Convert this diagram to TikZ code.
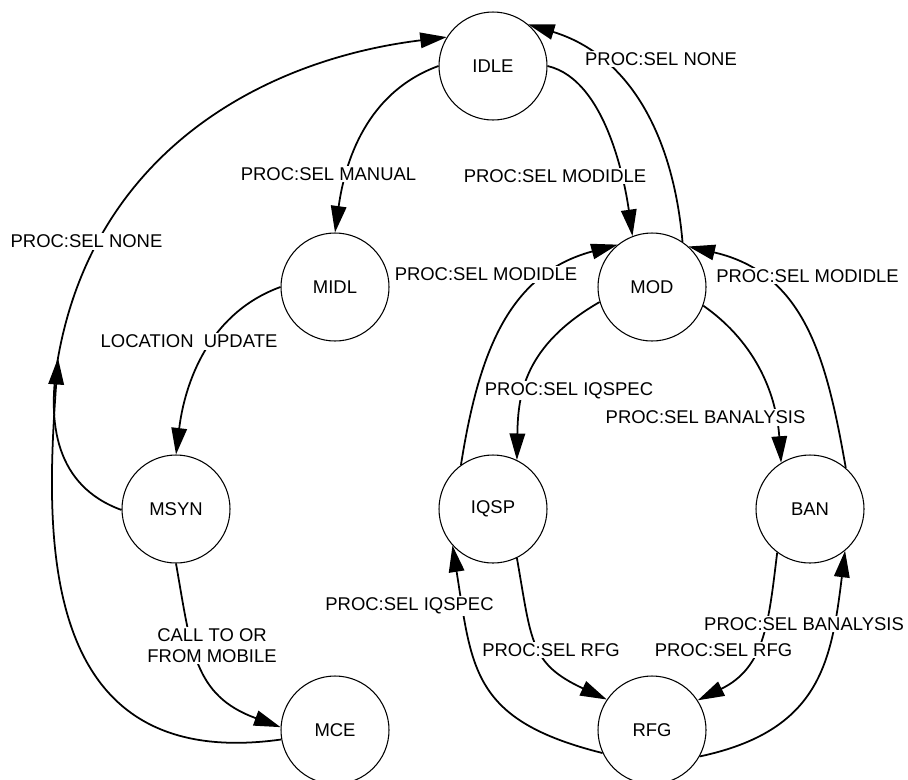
\documentclass[tikz,border=0pt]{standalone}
\usepackage{fontspec}
\setmainfont{Liberation Sans}
\usetikzlibrary{arrows.meta}

\begin{document}
\begin{tikzpicture}[
    font=\fontsize{10.5}{12}\selectfont,
    state/.style={draw, circle, line width=0.6pt, minimum size=2.16cm, inner sep=0pt},
    lbl/.style={fill=white, inner sep=1pt, align=center},
    line/.style={-{Triangle[length=5.3mm, width=3.1mm]}, line width=1pt}
]
\useasboundingbox (0,0) rectangle (18.16,-15.58);

\node[state] (idle) at (9.86,-1.32) {IDLE};
\node[state] (midl) at (6.70,-5.74) {MIDL};
\node[state] (mod)  at (13.04,-5.74) {MOD};
\node[state] (msyn) at (3.52,-10.18) {MSYN};
\node[state] (iqsp) at (9.86,-10.18) {IQSP};
\node[state] (ban)  at (16.20,-10.18) {BAN};
\node[state] (mce)  at (6.70,-14.60) {MCE};
\node[state] (rfg)  at (13.04,-14.60) {RFG};
\coordinate (merge) at (1.16,-7.16);

% mobile states
\draw[line] (idle.180) .. controls +(200:1.54) and +(82:1.42) .. (midl.90);
\draw[line] (midl.180) .. controls +(200:1.54) and +(83:1.42) .. (msyn.90);
\draw[line] (msyn.270) .. controls +(280:1.75) and +(160:1.85) .. (mce.177);
\draw[line] (msyn.181) .. controls +(160:1.4) and +(260:1.33) .. (merge)
    .. controls +(80:4.16) and +(187:3.74) .. (idle.148);
\draw[line] (mce.190) .. controls +(188:5.0) and +(266:3.43) .. (merge);

% process states
\draw[line] (idle.0) .. controls +(347:1.25) and +(98:0.9) .. (mod.111);
\draw[line] (mod.56) .. controls +(95:2.12) and +(343:2.13) .. (idle.50);
\draw[line] (iqsp.126) .. controls +(81:2.25) and +(195:2.27) .. (mod.129);
\draw[line] (mod.196) .. controls +(210:1.75) and +(89:1.3) .. (iqsp.64);
\draw[line] (mod.340) .. controls +(325:1.35) and +(94:1.3) .. (ban.122);
\draw[line] (ban.49) .. controls +(100:2.2) and +(347:2.4) .. (mod.48);
\draw[line] (iqsp.296) .. controls +(280:1.7) and +(155:1.7) .. (rfg.146);
\draw[line] (rfg.205) .. controls +(166:2.7) and +(279:2.5) .. (iqsp.222);
\draw[line] (ban.233) .. controls +(263:1.4) and +(26:1.5) .. (rfg.33);
\draw[line] (rfg.331) .. controls +(12:2.46) and +(263:2.25) .. (ban.310);

% labels
\node[lbl] (selnoneleft) at (1.73,-4.83) {PROC:SEL NONE};
\node[lbl] (selmanual) at (6.57,-3.48) {PROC:SEL MANUAL};
\node[lbl] (locupdate) at (3.78,-6.83) {LOCATION\ \ UPDATE};
\node[lbl] (callmobile) at (4.24,-12.91) {CALL TO OR\\FROM MOBILE};
\node[lbl] (selnonetop) at (13.22,-1.18) {PROC:SEL NONE};
\node[lbl] (selmodidle) at (11.10,-3.52) {PROC:SEL MODIDLE};
\node[lbl] (seliqspmod) at (9.72,-5.49) {PROC:SEL MODIDLE};
\node[lbl] (selbanmod) at (16.15,-5.52) {PROC:SEL MODIDLE};
\node[lbl] (seliqspec) at (11.38,-7.81) {PROC:SEL IQSPEC};
\node[lbl] (selbanalysis) at (14.11,-8.35) {PROC:SEL BANALYSIS};
\node[lbl] (selrfgleft) at (11.02,-13.00) {PROC:SEL RFG};
\node[lbl] (selrfgright) at (14.47,-13.00) {PROC:SEL RFG};
\node[lbl] (seliqspecback) at (8.19,-12.12) {PROC:SEL IQSPEC};
\node[lbl] (selbanback) at (16.08,-12.48) {PROC:SEL BANALYSIS};
\end{tikzpicture}
\end{document}
